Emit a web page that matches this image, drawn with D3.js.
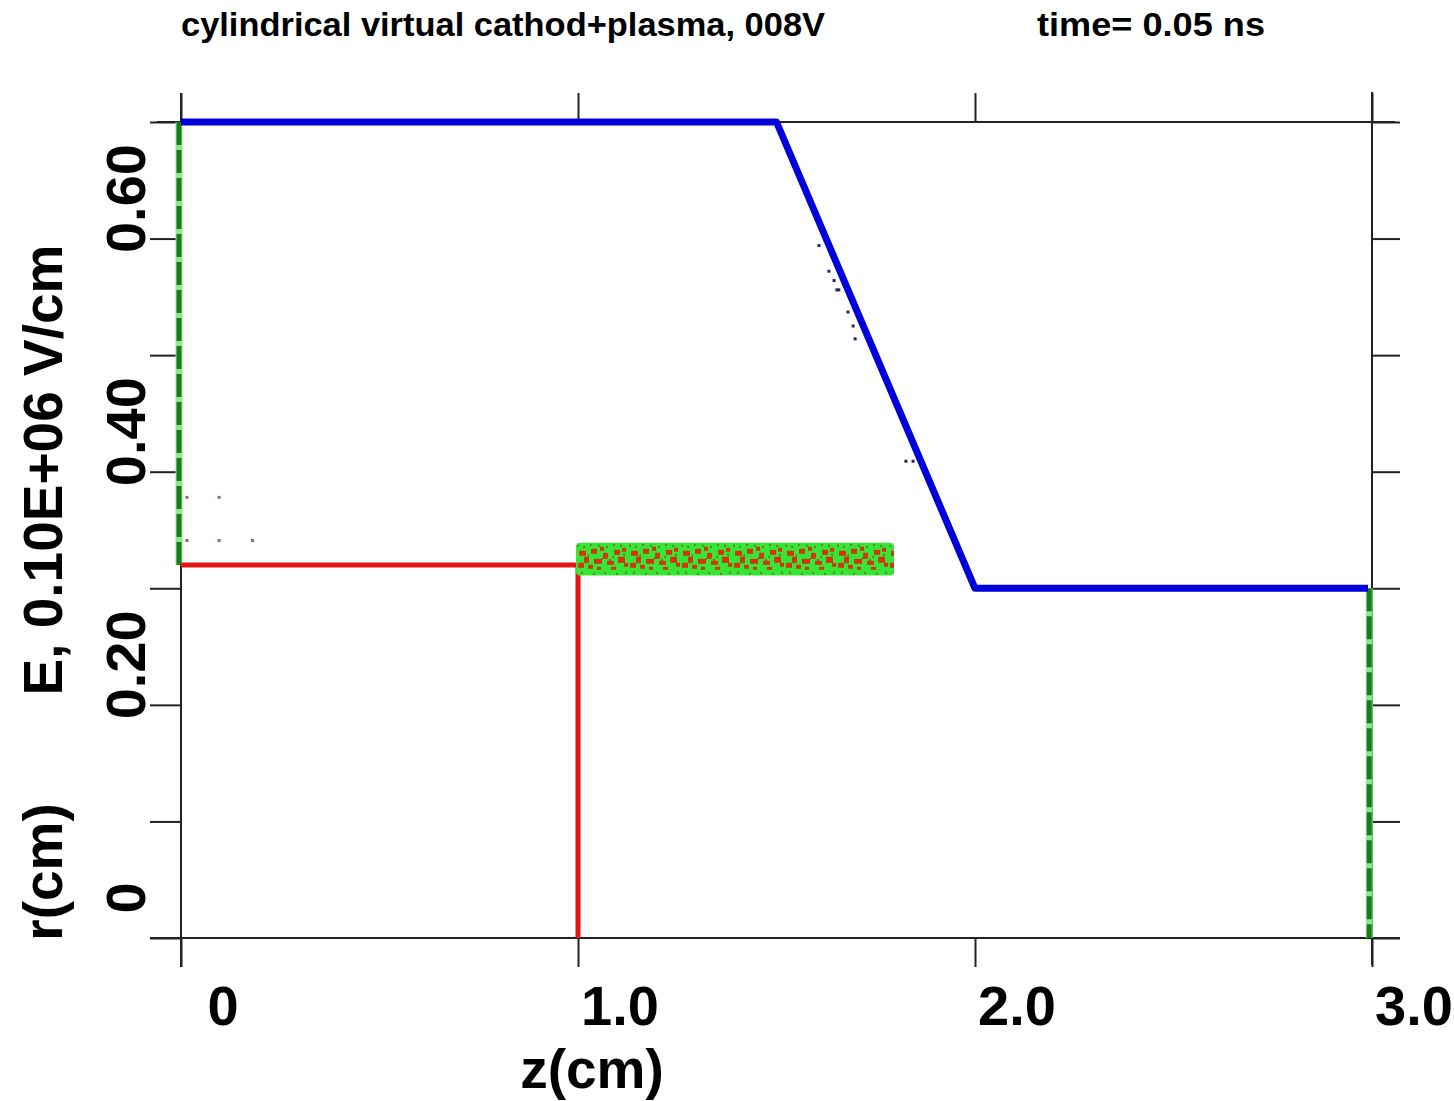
<!DOCTYPE html>
<html>
<head>
<meta charset="utf-8">
<script src="https://cdn.jsdelivr.net/npm/d3@7/dist/d3.min.js"></script>
<style>
  body { margin: 0; background: #fff; }
  text { font-family: "Liberation Sans", Arial, sans-serif; font-weight: bold; fill: #000; }
</style>
</head>
<body>
<div id="chart"></div>
<script>
// ---- data ----
const zTicks = [0, 1, 2, 3];
const zTickLabels = ["0", "1.0", "2.0", "3.0"];
const rTicks = [0, 0.1, 0.2, 0.3, 0.4, 0.5, 0.6, 0.7];
const rLabelValues = [0, 0.2, 0.4, 0.6];
const rLabelTexts = ["0", "0.20", "0.40", "0.60"];

// E field profile (blue)
const fieldZ = [0, 1.50, 2.0, 2.99];
const fieldE = [0.70, 0.70, 0.30, 0.30];

// cathode outline (red)
const cathodeZ = [0, 1.0, 1.0];
const cathodeR = [0.32, 0.32, 0];

// walls (green dashed)
const leftWallZ = [-0.005, -0.005];
const leftWallR = [0.70, 0.32];
const rightWallZ = [2.993, 2.993];
const rightWallR = [0.30, 0];

// plasma / beam particle band
const beamZ = [0.995, 1.796];
const beamR = [0.311, 0.339];

// stray particles
const strayZ = [0.015, 0.096, 0.015, 0.096, 0.18];
const strayR = [0.378, 0.378, 0.341, 0.341, 0.341];
const fieldDotZ = [1.607, 1.632, 1.645, 1.652, 1.657, 1.680, 1.693, 1.698, 1.826, 1.844];
const fieldDotE = [0.594, 0.572, 0.564, 0.556, 0.556, 0.537, 0.525, 0.514, 0.409, 0.409];

// ---- setup ----
const W = 1454, H = 1101;
const svg = d3.select("#chart").append("svg")
    .attr("width", W)
    .attr("height", H);

const x = d3.scaleLinear().domain([0, 3]).range([181, 1372]);
const y = d3.scaleLinear().domain([0, 0.7]).range([938, 122]);

const axisColor = "#222";

// speckle texture for the particle band (style only)
const defs = svg.append("defs");
const pat = defs.append("pattern")
    .attr("id", "speck")
    .attr("patternUnits", "userSpaceOnUse")
    .attr("x", x(beamZ[0])).attr("y", y(beamR[1]))
    .attr("width", 52).attr("height", 33);
pat.append("rect").attr("width", 52).attr("height", 33).attr("fill", "#35e635");
[[3,8,7,5],[8,14,5,6],[15,6,6,5],[18,16,8,5],[27,10,5,6],[31,18,7,4],[38,7,6,5],[42,14,7,6],
 [48,20,4,4],[2,20,6,5],[12,22,5,4],[24,4,4,4],[35,24,5,3],[46,5,4,4],[21,24,4,3]]
  .forEach(r => pat.append("rect").attr("x", r[0]).attr("y", r[1]).attr("width", r[2]).attr("height", r[3]).attr("fill", "#d6340e"));
[[1,2],[7,3],[14,1],[22,2],[30,3],[37,1],[44,2],[5,29],[17,30],[28,29],[40,30],[49,29],
 [11,12],[25,15],[36,13],[47,11],[9,19],[33,16]]
  .forEach(d => pat.append("rect").attr("x", d[0]).attr("y", d[1]).attr("width", 2).attr("height", 2).attr("fill", "#6f7a24"));

// ---- frame ----
const frame = svg.append("g").attr("stroke", axisColor).attr("stroke-width", 2);
frame.append("line").attr("x1", x(0) - 24).attr("x2", x(3) + 23).attr("y1", y(0.7)).attr("y2", y(0.7));
frame.append("line").attr("x1", x(0) - 31).attr("x2", x(3) + 28).attr("y1", y(0)).attr("y2", y(0));
frame.append("line").attr("x1", x(0)).attr("x2", x(0)).attr("y1", y(0.7) - 29).attr("y2", y(0) + 29);
frame.append("line").attr("x1", x(3)).attr("x2", x(3)).attr("y1", y(0.7) - 30).attr("y2", y(0) + 27);

// ticks via d3 axes (no domain path, no labels)
function tickAxis(axis, tx, ty) {
    const g = svg.append("g")
        .attr("transform", `translate(${tx},${ty})`)
        .call(axis.tickFormat(""));
    g.select(".domain").remove();
    g.selectAll(".tick line").attr("stroke", axisColor).attr("stroke-width", 2);
    return g;
}
tickAxis(d3.axisBottom(x).tickValues(zTicks).tickSize(29), 0, y(0));
tickAxis(d3.axisTop(x).tickValues(zTicks).tickSize(29), 0, y(0.7));
tickAxis(d3.axisLeft(y).tickValues(rTicks).tickSize(31), x(0), 0);
tickAxis(d3.axisRight(y).tickValues(rTicks).tickSize(28), x(3), 0);

// ---- tick labels ----
svg.append("g").selectAll("text")
    .data(zTicks)
    .join("text")
    .attr("x", d => x(d) + 42)
    .attr("y", 1025)
    .attr("text-anchor", "middle")
    .attr("font-size", 56)
    .text((d, i) => zTickLabels[i]);

svg.append("g").selectAll("text")
    .data(rLabelValues)
    .join("text")
    .attr("transform", d => `translate(145,${y(d) - 40}) rotate(-90)`)
    .attr("text-anchor", "middle")
    .attr("font-size", 56)
    .text((d, i) => rLabelTexts[i]);

// axis titles
svg.append("text")
    .attr("x", 592).attr("y", 1088)
    .attr("text-anchor", "middle")
    .attr("font-size", 55)
    .text("z(cm)");

svg.append("text")
    .attr("transform", "translate(62,470) rotate(-90)")
    .attr("text-anchor", "middle")
    .attr("font-size", 55)
    .text("E, 0.10E+06 V/cm");

svg.append("text")
    .attr("transform", "translate(62,872) rotate(-90)")
    .attr("text-anchor", "middle")
    .attr("font-size", 55)
    .text("r(cm)");

// header
svg.append("text")
    .attr("x", 181).attr("y", 36)
    .attr("font-size", 33)
    .attr("textLength", 644).attr("lengthAdjust", "spacingAndGlyphs")
    .text("cylindrical virtual cathod+plasma, 008V");

svg.append("text")
    .attr("x", 1037).attr("y", 36)
    .attr("font-size", 33)
    .attr("textLength", 228).attr("lengthAdjust", "spacingAndGlyphs")
    .text("time=  0.05 ns");

// ---- curves ----
const line = d3.line().x(d => x(d[0])).y(d => y(d[1]));
const zip = (a, b) => a.map((v, i) => [v, b[i]]);

// walls
[zip(leftWallZ, leftWallR), zip(rightWallZ, rightWallR)].forEach(pts => {
    svg.append("path")
        .attr("d", line(pts))
        .attr("fill", "none")
        .attr("stroke", "#8ee88e")
        .attr("stroke-width", 7);
    svg.append("path")
        .attr("d", line(pts))
        .attr("fill", "none")
        .attr("stroke", "#1b7a1b")
        .attr("stroke-width", 5)
        .attr("stroke-dasharray", "23,5");
});

// cathode
svg.append("path")
    .attr("d", line(zip(cathodeZ, cathodeR)))
    .attr("fill", "none")
    .attr("stroke", "#e31414")
    .attr("stroke-width", 5);

// particle band
svg.append("rect")
    .attr("x", x(beamZ[0]))
    .attr("y", y(beamR[1]))
    .attr("width", x(beamZ[1]) - x(beamZ[0]))
    .attr("height", y(beamR[0]) - y(beamR[1]))
    .attr("rx", 4)
    .attr("fill", "url(#speck)");

// E field
svg.append("path")
    .attr("d", line(zip(fieldZ, fieldE)))
    .attr("fill", "none")
    .attr("stroke", "#0000dc")
    .attr("stroke-width", 7)
    .attr("stroke-linejoin", "round");

// stray particles
svg.append("g").selectAll("rect")
    .data(zip(strayZ, strayR))
    .join("rect")
    .attr("x", d => x(d[0]) - 1.5).attr("y", d => y(d[1]) - 1.5)
    .attr("width", 3).attr("height", 3)
    .attr("fill", "#8a6a86");

svg.append("g").selectAll("rect")
    .data(zip(fieldDotZ, fieldDotE))
    .join("rect")
    .attr("x", d => x(d[0]) - 1.5).attr("y", d => y(d[1]) - 1.5)
    .attr("width", 3).attr("height", 3)
    .attr("fill", "#24246e");
</script>
</body>
</html>
